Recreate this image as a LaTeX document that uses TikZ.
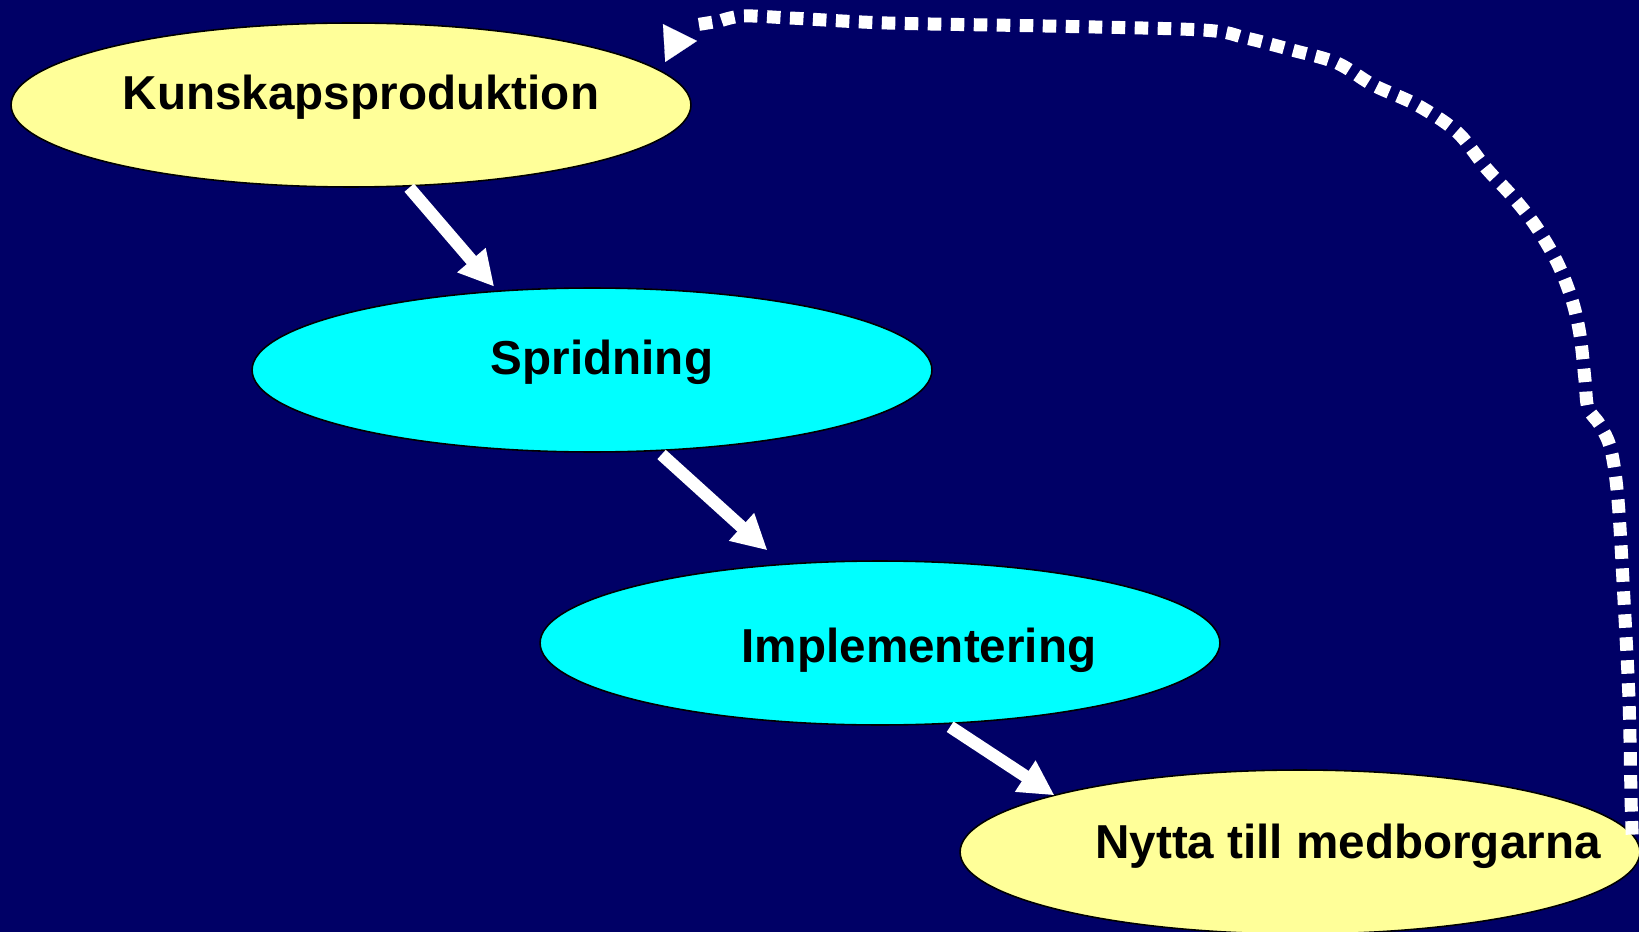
\documentclass[tikz,border=0pt]{standalone}
\usepackage{fontspec}
\setmainfont{Liberation Sans}
\usetikzlibrary{arrows.meta,shapes.geometric}
\definecolor{navybg}{RGB}{0,0,102}
\definecolor{paleyellow}{RGB}{255,255,153}
\definecolor{aquafill}{RGB}{0,255,255}
\begin{document}
\begin{tikzpicture}[x=0.02cm,y=-0.02cm,
  oval/.style={ellipse, draw=black, line width=0.9pt, minimum width=13.6cm, minimum height=3.28cm, inner sep=0pt, outer sep=0pt},
  lbl/.style={anchor=base, font=\bfseries\fontsize{27.1}{30}\selectfont, text=black, inner sep=0pt},
  flow/.style={draw=white, line width=0.25cm, -{Triangle[length=0.7cm,width=0.7cm]}},
  backloop/.style={draw=white, line width=0.26cm, dash pattern=on 0.27cm off 0.19cm},
  loophead/.style={draw=white, line width=0.1pt, -{Triangle[length=0.66cm,width=0.76cm]}}]
\fill[navybg] (0,0) rectangle (1639,932);
\useasboundingbox (0,0) rectangle (1639,932);

\node[oval, fill=paleyellow] (e1) at (351,105) {};
\node[oval, fill=aquafill] (e2) at (592,370) {};
\node[oval, fill=aquafill] (e3) at (880,643) {};
\node[oval, fill=paleyellow] (e4) at (1300,852) {};

\node[lbl] (t1) at (361,110) {Kunskapsproduktion};
\node[lbl] (t2) at (602,375) {Spridning};
\node[lbl] (t3) at (919,662) {Implementering};
\node[lbl] (t4) at (1348,858) {Nytta till medborgarna};

\draw[flow, shorten <=0.05cm, shorten >=0.12cm] (e1.305) -- (e2.140);
\draw[flow, shorten <=0.12cm, shorten >=0.42cm] (e2.309.5) -- (e3.141);
\draw[flow, shorten <=0.12cm] (e3.309.5) -- (e4.167.8);

\coordinate (lend) at (695,25);
\draw[backloop] (e4.3) -- plot[smooth, tension=0.55] coordinates {(1631,800) (1629,700) (1624,600) (1618,500) (1611,450) (1600,425) (1588,408) (1585,380) (1580,335) (1572,300) (1557,262) (1535,225) (1512,196) (1486,168) (1457,132) (1417,105) (1373,85) (1337,63) (1292,50) (1246,38) (1202,30) (1045,26) (887,23) (790,18) (743,16) (720,21)} -- (lend);
\coordinate (hb) at (664,43);
\coordinate (ht) at (697,41);
\draw[loophead] (hb) -- (ht);
\end{tikzpicture}
\end{document}
